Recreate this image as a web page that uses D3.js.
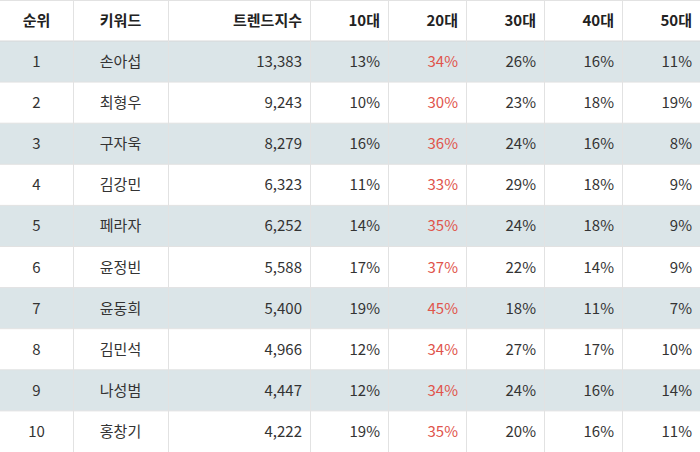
<!DOCTYPE html>
<html><head><meta charset="utf-8">
<script src="https://cdn.jsdelivr.net/npm/d3@7"></script>
<style>body{margin:0;background:#fff}svg{display:block;font-family:"Noto Sans CJK KR","Noto Sans",sans-serif}</style>
</head><body><svg id="t" width="700" height="452"></svg>
<script>
const headers = ["순위", "키워드", "트렌드지수", "10대", "20대", "30대", "40대", "50대"];
const ranks = [1, 2, 3, 4, 5, 6, 7, 8, 9, 10];
const keywords = ["손아섭", "최형우", "구자욱", "김강민", "페라자", "윤정빈", "윤동희", "김민석", "나성범", "홍창기"];
const trend = [13383, 9243, 8279, 6323, 6252, 5588, 5400, 4966, 4447, 4222];
const age10 = [13, 10, 16, 11, 14, 17, 19, 12, 12, 19];
const age20 = [34, 30, 36, 33, 35, 37, 45, 34, 34, 35];
const age30 = [26, 23, 24, 29, 24, 22, 18, 27, 24, 20];
const age40 = [16, 18, 16, 18, 18, 14, 11, 17, 16, 16];
const age50 = [11, 19, 8, 9, 9, 9, 7, 10, 14, 11];

const edges = [0, 73, 168, 310, 388, 466, 544, 622, 700];
const align = ["middle", "middle", "end", "end", "end", "end", "end", "end"];
const svg = d3.select("#t");
const headH = 41;
const y = d3.scaleBand().domain(ranks).range([headH, 452]);
const fmt = d3.format(",");
const rows = ranks.map((r, i) => [r, keywords[i], fmt(trend[i]), age10[i] + "%", age20[i] + "%", age30[i] + "%", age40[i] + "%", age50[i] + "%"]);

function tx(c) { return align[c] === "middle" ? (edges[c] + edges[c + 1]) / 2 : edges[c + 1] - 8; }

svg.selectAll("rect.row").data(ranks).join("rect")
  .attr("x", 0).attr("width", 700).attr("y", d => y(d)).attr("height", y.bandwidth())
  .attr("fill", (d, i) => i % 2 === 0 ? "#dbe5e8" : "#fff");

// grid lines
svg.selectAll("line.h").data(ranks.slice(1)).join("line")
  .attr("x1", 0).attr("x2", 700).attr("y1", d => y(d)).attr("y2", d => y(d))
  .attr("stroke", "#e2e2e2");
svg.append("line").attr("x1", 0).attr("x2", 700).attr("y1", headH).attr("y2", headH).attr("stroke", "#d8d8d8");
svg.append("line").attr("x1", 0).attr("x2", 700).attr("y1", 0.5).attr("y2", 0.5).attr("stroke", "#e2e2e2");
svg.selectAll("line.v").data(edges.slice(1, -1)).join("line")
  .attr("x1", d => d + 0.5).attr("x2", d => d + 0.5).attr("y1", 0).attr("y2", 452)
  .attr("stroke", "#e2e2e2");

svg.selectAll("text.hd").data(headers).join("text")
  .attr("x", (d, c) => tx(c)).attr("y", headH / 2 + 5).attr("text-anchor", (d, c) => align[c])
  .attr("font-size", 15).attr("font-weight", "bold").attr("fill", "#222").text(d => d);

rows.forEach((row, i) => {
  svg.selectAll(null).data(row).join("text")
    .attr("x", (d, c) => tx(c)).attr("y", y(ranks[i]) + y.bandwidth() / 2 + 5.5)
    .attr("text-anchor", (d, c) => align[c]).attr("font-size", 15)
    .attr("fill", (d, c) => c === 4 ? "#e0544b" : "#333").text(d => d);
});
</script></body></html>
